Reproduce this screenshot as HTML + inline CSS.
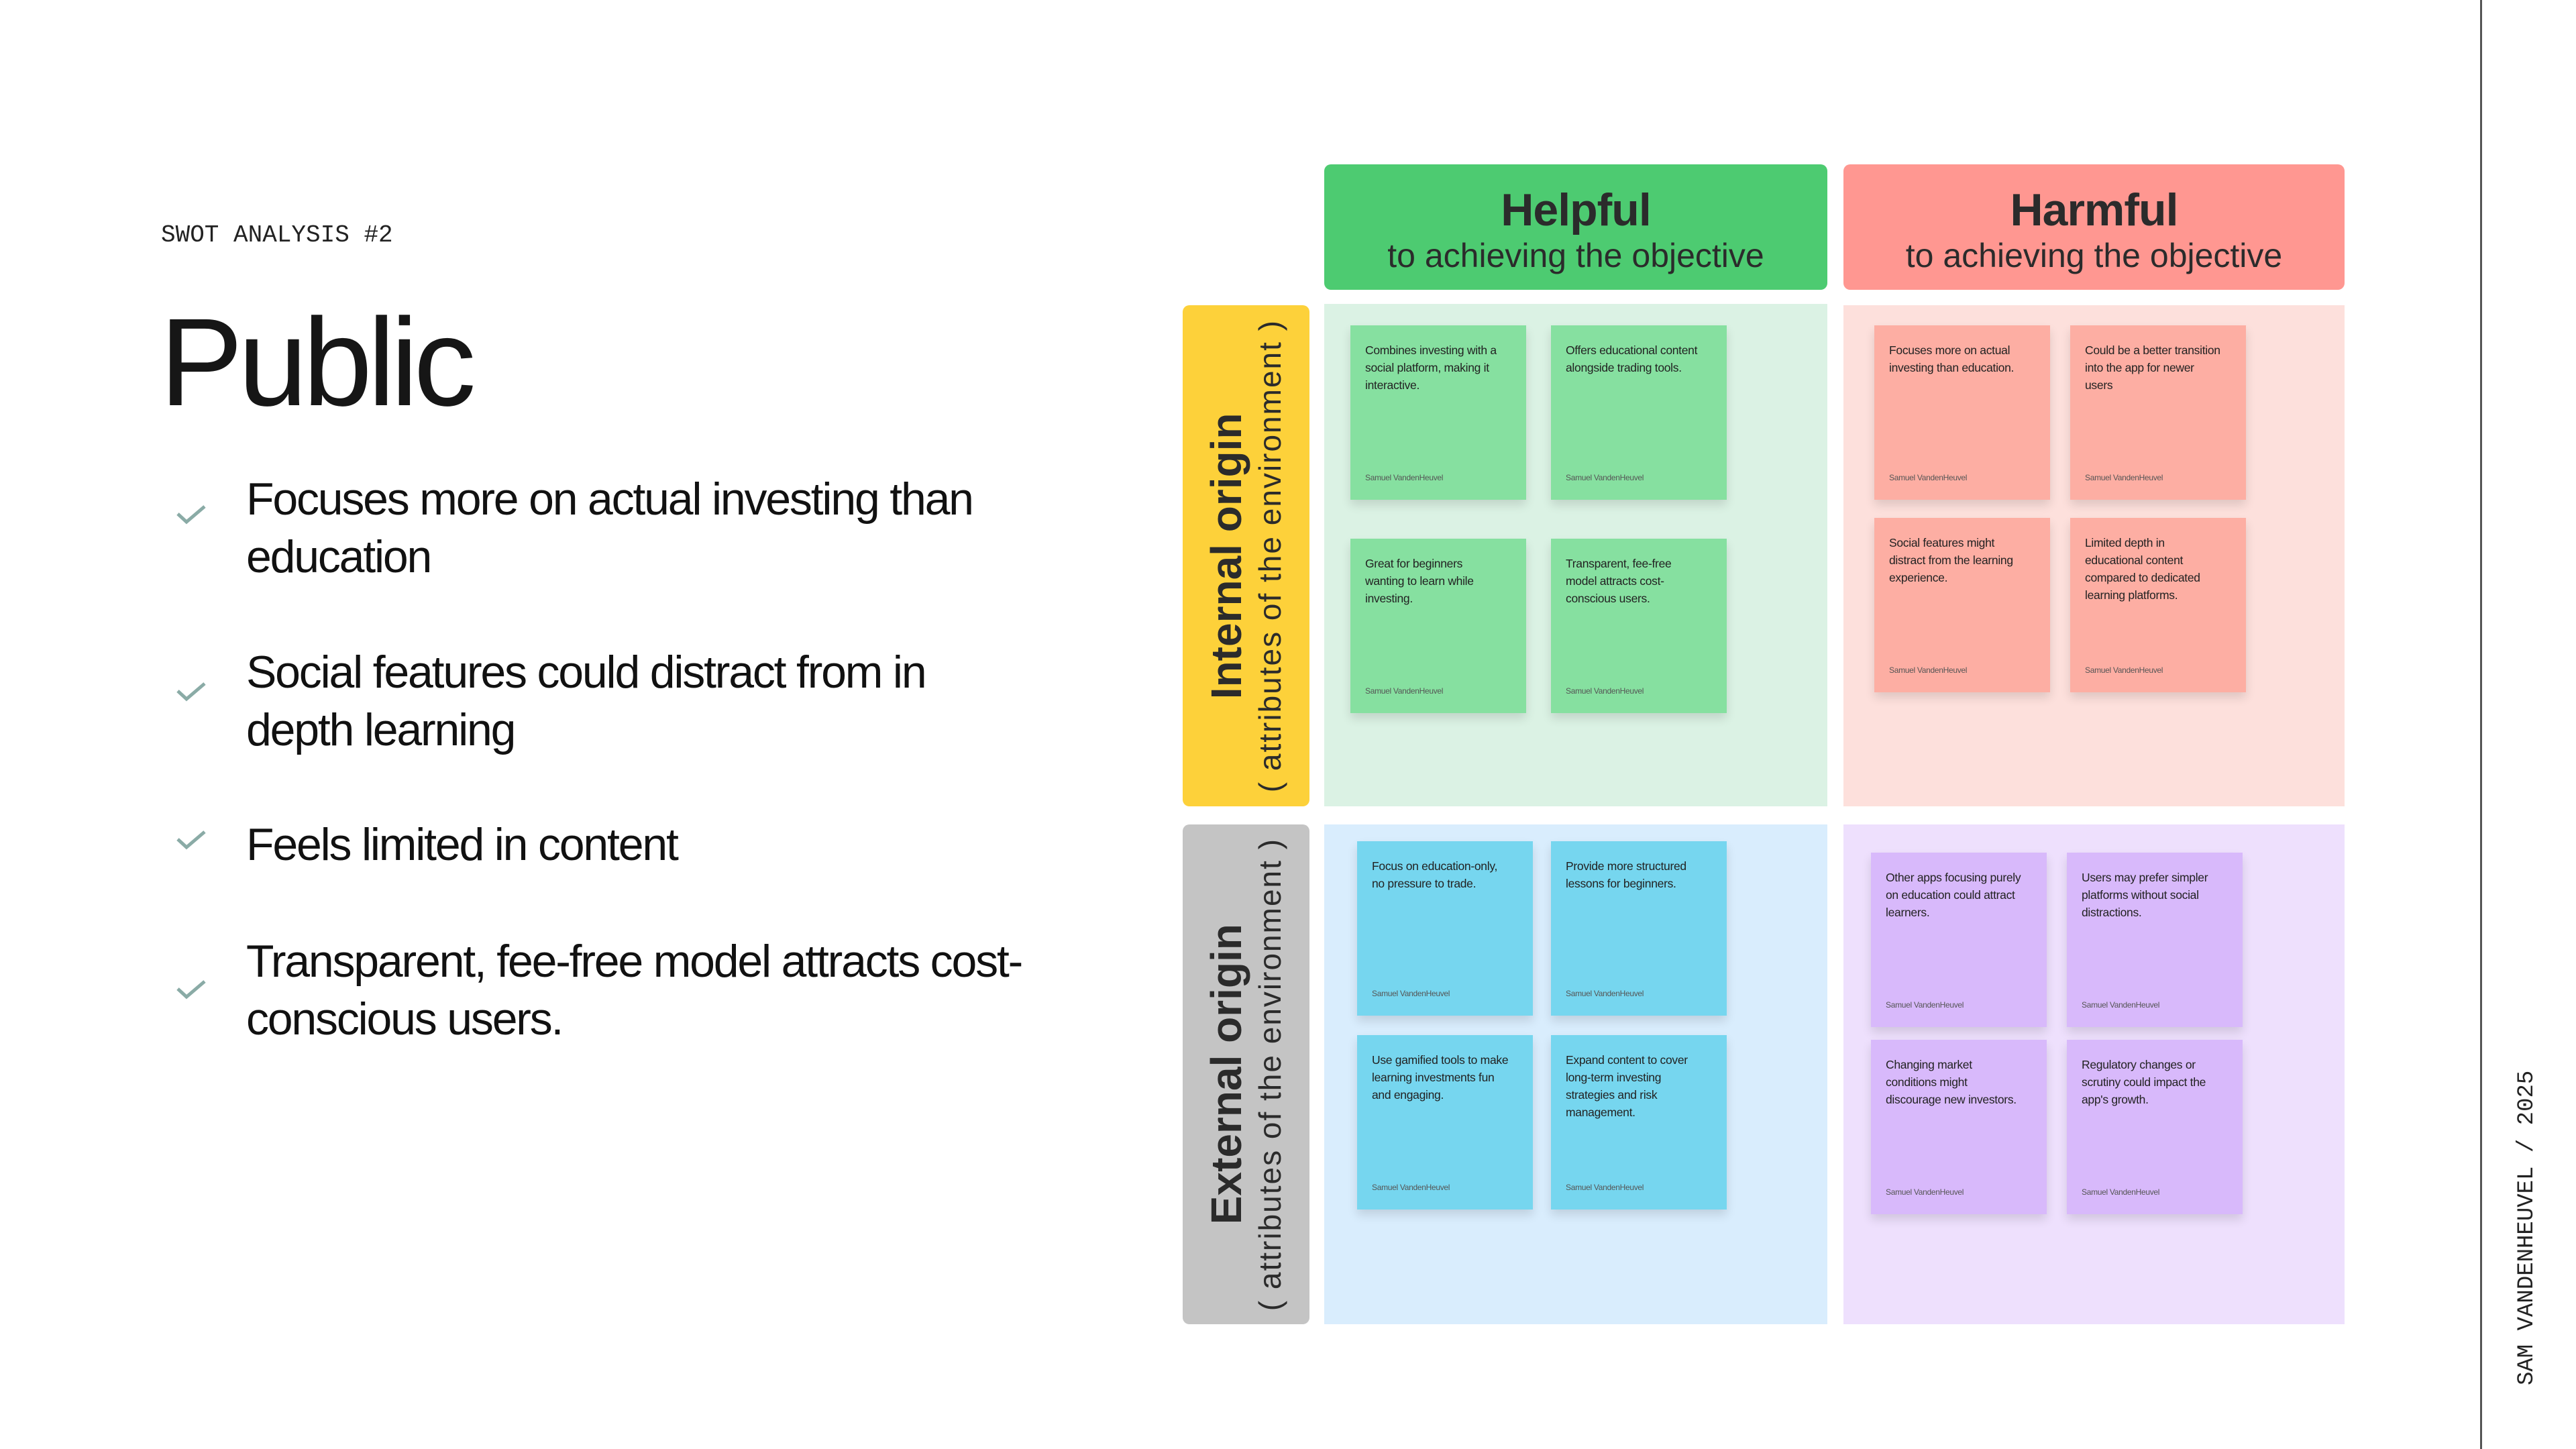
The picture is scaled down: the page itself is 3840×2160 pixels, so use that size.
<!DOCTYPE html>
<html><head><meta charset="utf-8"><style>
*{margin:0;padding:0;box-sizing:border-box}
body{width:3840px;height:2160px;background:#fff;position:relative;overflow:hidden;font-family:"Liberation Sans",sans-serif;color:#1a1a1a}
.abs{position:absolute}
.mono{font-family:"Liberation Mono",monospace}
.bul{position:absolute;left:367px;font-size:68px;line-height:86px;letter-spacing:-2.2px;width:1260px;color:#111}
.chk{position:absolute;left:262px;width:46px;height:30px}
.hdr{position:absolute;top:245px;height:187px;border-radius:10px;text-align:center;color:#2b2b2b}
.hdr b{display:block;font-size:68px;margin-top:30px;line-height:76px;letter-spacing:-1px}
.hdr span{display:block;font-size:50px;line-height:60px}
.quad{position:absolute}
.lab{position:absolute;border-radius:10px;display:flex;align-items:center;justify-content:center}
.lab div{writing-mode:vertical-rl;transform:rotate(180deg);text-align:center;color:#2b2b2b;white-space:nowrap}
.lab b{font-size:64px;line-height:70px;display:block}
.lab span{font-size:46px;line-height:60px;display:block;letter-spacing:2px}
.n{position:absolute;width:262px;height:260px;padding:24px 34px 0 22px;font-size:17.5px;line-height:26px;color:#222;box-shadow:0 8px 14px rgba(0,0,0,0.12);letter-spacing:-0.3px}
.n i{position:absolute;left:22px;bottom:20px;font-style:normal;font-size:12px;color:#555}
.g{background:#86e0a0}.r{background:#fdaea3}.c{background:#76d6ef}.p{background:#d8b9fb}
</style></head><body>
<div class="abs mono" style="left:240px;top:330px;font-size:36px;color:#222">SWOT ANALYSIS #2</div>
<div class="abs" style="left:238px;top:436px;font-size:186px;line-height:210px;letter-spacing:-7px;color:#161616">Public</div>

<svg class="chk" style="top:752px" viewBox="0 0 46 30"><polyline points="3,14 16,26 43,3" fill="none" stroke="#8aaba6" stroke-width="5"/></svg>
<div class="bul" style="top:701px">Focuses more on actual investing than<br>education</div>
<svg class="chk" style="top:1016px" viewBox="0 0 46 30"><polyline points="3,14 16,26 43,3" fill="none" stroke="#8aaba6" stroke-width="5"/></svg>
<div class="bul" style="top:959px">Social features could distract from in<br>depth learning</div>
<svg class="chk" style="top:1237px" viewBox="0 0 46 30"><polyline points="3,14 16,26 43,3" fill="none" stroke="#8aaba6" stroke-width="5"/></svg>
<div class="bul" style="top:1216px">Feels limited in content</div>
<svg class="chk" style="top:1460px" viewBox="0 0 46 30"><polyline points="3,14 16,26 43,3" fill="none" stroke="#8aaba6" stroke-width="5"/></svg>
<div class="bul" style="top:1390px">Transparent, fee-free model attracts cost-<br>conscious users.</div>

<div class="hdr" style="left:1974px;width:750px;background:#4dcb71"><b>Helpful</b><span>to achieving the objective</span></div>
<div class="hdr" style="left:2748px;width:747px;background:#ff9791"><b>Harmful</b><span>to achieving the objective</span></div>

<div class="lab" style="left:1763px;top:455px;width:189px;height:747px;background:#fdd13a"><div><b>Internal origin</b><span>( attributes of the environment )</span></div></div>
<div class="lab" style="left:1763px;top:1229px;width:189px;height:745px;background:#c4c4c4"><div><b>External origin</b><span>( attributes of the environment )</span></div></div>

<div class="quad" style="left:1974px;top:453px;width:750px;height:749px;background:#dbf2e4"></div>
<div class="quad" style="left:2748px;top:455px;width:747px;height:747px;background:#fde0dc"></div>
<div class="quad" style="left:1974px;top:1229px;width:750px;height:745px;background:#d9edfd"></div>
<div class="quad" style="left:2748px;top:1229px;width:747px;height:745px;background:#eee0fd"></div>

<div class="n g" style="left:2013px;top:485px">Combines investing with a social platform, making it interactive.<i>Samuel VandenHeuvel</i></div>
<div class="n g" style="left:2312px;top:485px">Offers educational content alongside trading tools.<i>Samuel VandenHeuvel</i></div>
<div class="n g" style="left:2013px;top:803px">Great for beginners wanting to learn while investing.<i>Samuel VandenHeuvel</i></div>
<div class="n g" style="left:2312px;top:803px">Transparent, fee-free model attracts cost-conscious users.<i>Samuel VandenHeuvel</i></div>

<div class="n r" style="left:2794px;top:485px">Focuses more on actual investing than education.<i>Samuel VandenHeuvel</i></div>
<div class="n r" style="left:3086px;top:485px">Could be a better transition into the app for newer users<i>Samuel VandenHeuvel</i></div>
<div class="n r" style="left:2794px;top:772px">Social features might distract from the learning experience.<i>Samuel VandenHeuvel</i></div>
<div class="n r" style="left:3086px;top:772px">Limited depth in educational content compared to dedicated learning platforms.<i>Samuel VandenHeuvel</i></div>

<div class="n c" style="left:2023px;top:1254px">Focus on education-only, no pressure to trade.<i>Samuel VandenHeuvel</i></div>
<div class="n c" style="left:2312px;top:1254px">Provide more structured lessons for beginners.<i>Samuel VandenHeuvel</i></div>
<div class="n c" style="left:2023px;top:1543px">Use gamified tools to make learning investments fun and engaging.<i>Samuel VandenHeuvel</i></div>
<div class="n c" style="left:2312px;top:1543px">Expand content to cover long-term investing strategies and risk management.<i>Samuel VandenHeuvel</i></div>

<div class="n p" style="left:2789px;top:1271px">Other apps focusing purely on education could attract learners.<i>Samuel VandenHeuvel</i></div>
<div class="n p" style="left:3081px;top:1271px">Users may prefer simpler platforms without social distractions.<i>Samuel VandenHeuvel</i></div>
<div class="n p" style="left:2789px;top:1550px">Changing market conditions might discourage new investors.<i>Samuel VandenHeuvel</i></div>
<div class="n p" style="left:3081px;top:1550px">Regulatory changes or scrutiny could impact the app's growth.<i>Samuel VandenHeuvel</i></div>

<div class="abs" style="left:3697px;top:0;width:3px;height:2160px;background:#555"></div>
<div class="abs mono" style="left:3748px;top:1572px;height:493px;writing-mode:vertical-rl;transform:rotate(180deg);font-size:34px;color:#222;white-space:nowrap">SAM VANDENHEUVEL / 2025</div>
</body></html>
